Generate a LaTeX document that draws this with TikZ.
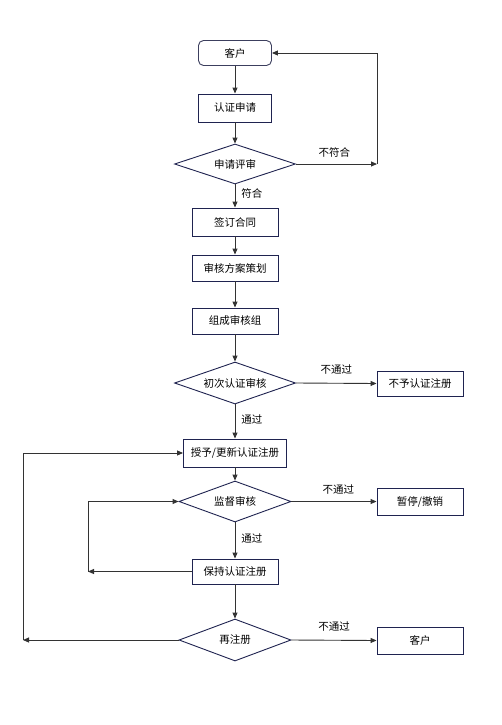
\documentclass[tikz,border=0pt]{standalone}
\usepackage{fontspec}
\setmainfont{Noto Sans CJK SC}
\usetikzlibrary{shapes.geometric,arrows.meta}
\definecolor{navy}{HTML}{1F2350}
\definecolor{linec}{HTML}{333333}
\tikzset{
  box/.style={draw=navy, line width=0.9pt, fill=white, minimum width=86pt, minimum height=27pt, inner sep=0pt, font=\fontsize{10.5}{12}\selectfont},
  rbox/.style={box, draw=navy!70!gray, rounded corners=5pt, minimum width=73pt, minimum height=25pt},
  dia/.style={draw=navy, line width=0.9pt, fill=white, diamond, aspect=3, inner sep=0pt, font=\fontsize{10.5}{12}\selectfont},
  conn/.style={draw=linec, line width=0.9pt, -{Triangle[length=6pt,width=5pt]}},
  lbl/.style={font=\fontsize{10.5}{12}\selectfont, inner sep=0pt},
}
\begin{document}
\begin{tikzpicture}[x=1pt,y=-1pt]
\useasboundingbox (0,0) rectangle (501,725);
\node[rbox] (c1) at (235,53) {客户};
\node[box, minimum width=73pt, minimum height=28pt] (s1) at (235,108) {认证申请};
\node[dia, minimum width=121pt, minimum height=40pt] (d1) at (235,164) {申请评审};
\node[box, minimum height=28pt] (s2) at (235,222) {签订合同};
\node[box, minimum height=26pt] (s3) at (235,268) {审核方案策划};
\node[box, minimum height=26pt] (s4) at (235,321) {组成审核组};
\node[dia, minimum width=121pt, minimum height=42pt] (d2) at (235,383) {初次认证审核};
\node[box, minimum height=25pt] (r1) at (420,383.5) {不予认证注册};
\node[box, minimum width=103pt, minimum height=28pt] (s5) at (235,453) {授予/更新认证注册};
\node[dia, minimum width=112pt, minimum height=41pt] (d3) at (235,501.5) {监督审核};
\node[box, minimum height=27pt] (r2) at (420,501.5) {暂停/撤销};
\node[box, minimum height=25pt] (s6) at (235,571.5) {保持认证注册};
\node[dia, minimum width=112pt, minimum height=42pt] (d4) at (235,640) {再注册};
\node[box, minimum height=27pt] (r3) at (420,640.5) {客户};

\coordinate (k1) at (377,164);
\coordinate (k2) at (377,53);
\coordinate (k3) at (88,571.5);
\coordinate (k4) at (88,501.5);
\coordinate (k5) at (23,640);
\coordinate (k6) at (23,453);

\draw[conn] (c1) -- (s1);
\draw[conn] (s1) -- (d1);
\draw[conn] (d1) -- node[lbl, right, xshift=6pt, pos=0.4] {符合} (s2);
\draw[conn] (d1.east) -- node[lbl, above, yshift=6pt, xshift=-2pt, pos=0.5] {不符合} (k1);
\draw[conn] (k1) -- (k2) -- (c1.east);
\draw[conn] (s2) -- (s3);
\draw[conn] (s3) -- (s4);
\draw[conn] (s4) -- (d2);
\draw[conn] (d2.east) -- node[lbl, above, yshift=8pt, pos=0.5] {不通过} (r1.west);
\draw[conn] (d2) -- node[lbl, right, xshift=6pt, pos=0.45] {通过} (s5);
\draw[conn] (s5) -- (d3);
\draw[conn] (d3.east) -- node[lbl, above, yshift=7pt, pos=0.55] {不通过} (r2.west);
\draw[conn] (d3) -- node[lbl, right, xshift=6pt, pos=0.45] {通过} (s6);
\draw[conn] (s6.west) -- (k3);
\draw[conn] (k3) -- (k4) -- (d3.west);
\draw[conn] (s6) -- (d4);
\draw[conn] (d4.east) -- node[lbl, above, yshift=8pt, pos=0.5] {不通过} (r3.west);
\draw[conn] (d4.west) -- (k5);
\draw[conn] (k5) -- (k6) -- (s5.west);
\end{tikzpicture}
\end{document}
